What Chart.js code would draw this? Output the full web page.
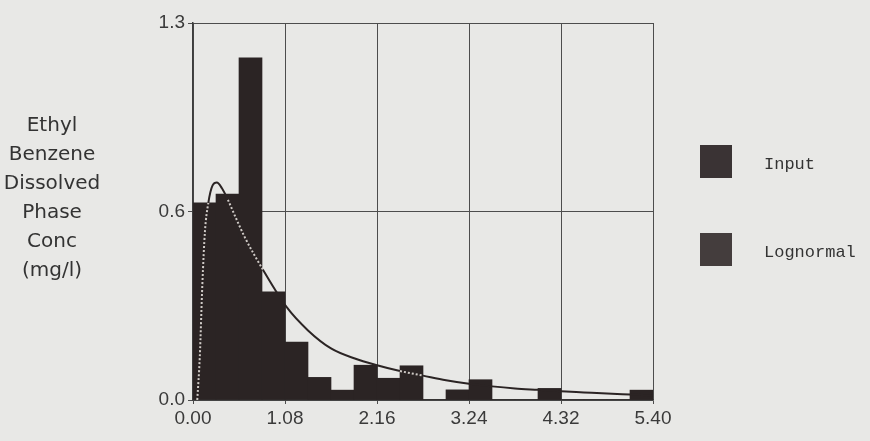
<!DOCTYPE html>
<html>
<head>
<meta charset="utf-8">
<script src="https://cdn.jsdelivr.net/npm/chart.js@4.4.1/dist/chart.umd.min.js"></script>
<style>
  html, body { margin: 0; padding: 0; background: #e8e8e6; }
  #wrap { width: 870px; height: 441px; }
</style>
</head>
<body>
<div id="wrap"><canvas id="histChart"></canvas></div>
<script>
// histogram bins (left edge of each bin, width 0.27)
const binStarts = [0.00, 0.27, 0.54, 0.81, 1.08, 1.35, 1.62, 1.89, 2.16, 2.43,
                   2.70, 2.97, 3.24, 3.51, 3.78, 4.05, 4.32, 4.59, 4.86, 5.13];
const binWidth = 0.27;
const inputFreq = [0.68, 0.71, 1.18, 0.373, 0.20, 0.078, 0.034, 0.12, 0.075, 0.118,
                   0.00, 0.035, 0.07, 0.00, 0.00, 0.04, 0.00, 0.00, 0.00, 0.034];

// lognormal fit
const curveX = [0.05, 0.08, 0.11, 0.14, 0.18, 0.23, 0.28, 0.34, 0.41, 0.50, 0.61, 0.82,
                1.10, 1.35, 1.62, 1.90, 2.16, 2.43, 2.70, 2.97, 3.24, 3.51, 3.78, 4.05,
                4.32, 4.59, 4.86, 5.13, 5.40];
const curveY = [0.00, 0.15, 0.40, 0.58, 0.68, 0.74, 0.75, 0.73, 0.69, 0.63, 0.56, 0.45,
                0.32, 0.24, 0.178, 0.143, 0.12, 0.10, 0.084, 0.068, 0.056, 0.047, 0.04, 0.035,
                0.03, 0.026, 0.022, 0.019, 0.016];

const xTicks = [0, 1.08, 2.16, 3.24, 4.32, 5.40];
const yTicks = [0, 0.65, 1.3];
const yTickLabels = ['0.0', '0.6', '1.3'];
const yTitle = ['Ethyl', 'Benzene', 'Dissolved', 'Phase', 'Conc', '(mg/l)'];
const seriesNames = ['Input', 'Lognormal'];

const ink = '#2b2424';

function underBar(x, y) {
  const i = binStarts.findIndex(s => x >= s && x < s + binWidth);
  return i >= 0 && y < inputFreq[i] - 0.02;
}
function segInside(c) {
  return underBar((c.p0.parsed.x + c.p1.parsed.x) / 2, (c.p0.parsed.y + c.p1.parsed.y) / 2);
}

// y title (horizontal, stacked lines) and the boxed legend on the right
const sideText = {
  id: 'sideText',
  afterDraw(chart) {
    const ctx = chart.ctx;
    const area = chart.chartArea;
    ctx.save();
    ctx.fillStyle = '#333';
    ctx.textAlign = 'center';
    ctx.textBaseline = 'middle';
    ctx.font = '20px "DejaVu Sans"';
    yTitle.forEach((t, i) => ctx.fillText(t, 52, 126 + i * 29));

    ctx.textAlign = 'left';
    ctx.font = '17px "Liberation Mono"';
    const colors = ['#3a3334', '#443d3d'];
    seriesNames.forEach((name, i) => {
      const top = 145 + i * 88;
      ctx.fillStyle = colors[i];
      ctx.fillRect(area.right + 47, top, 32, 33);
      ctx.fillStyle = '#333';
      ctx.fillText(name, area.right + 111, top + 19);
    });
    ctx.restore();
  }
};

new Chart(document.getElementById('histChart'), {
  type: 'bar',
  data: {
    datasets: [
      {
        type: 'line',
        label: seriesNames[1],
        data: curveX.map((x, i) => ({ x: x, y: curveY[i] })),
        borderColor: ink,
        borderWidth: 2,
        pointRadius: 0,
        fill: false,
        cubicInterpolationMode: 'monotone',
        order: 0,
        segment: {
          borderColor: c => segInside(c) ? '#cfcac6' : ink,
          borderDash: c => segInside(c) ? [2, 2] : undefined
        }
      },
      {
        label: seriesNames[0],
        data: binStarts.map((s, i) => ({ x: s + binWidth / 2, y: inputFreq[i] })),
        backgroundColor: ink,
        borderWidth: 0,
        barPercentage: 1,
        categoryPercentage: 1,
        order: 1
      }
    ]
  },
  options: {
    responsive: true,
    maintainAspectRatio: false,
    animation: false,
    layout: { padding: { left: 120, right: 217, top: 23, bottom: 11 } },
    plugins: {
      legend: { display: false },
      tooltip: { enabled: false }
    },
    scales: {
      x: {
        type: 'linear',
        min: 0,
        max: 5.4,
        offset: false,
        afterBuildTicks: s => { s.ticks = xTicks.map(v => ({ value: v })); },
        afterFit: s => { s.height = 30; },
        ticks: {
          autoSkip: false,
          maxRotation: 0,
          padding: 3,
          color: '#3a3a3a',
          font: { family: '"Liberation Sans"', size: 19 },
          callback: v => v.toFixed(2)
        },
        grid: { color: '#4d4d4d', lineWidth: 1, tickLength: 4, offset: false },
        border: { color: '#3d3d3d', width: 1.5 }
      },
      y: {
        min: 0,
        max: 1.3,
        afterBuildTicks: s => { s.ticks = yTicks.map(v => ({ value: v })); },
        afterFit: s => { s.width = 73; },
        ticks: {
          padding: 3,
          color: '#3a3a3a',
          font: { family: '"Liberation Sans"', size: 19 },
          callback: (v, i) => yTickLabels[i]
        },
        grid: { color: '#4d4d4d', lineWidth: 1, tickLength: 5 },
        border: { color: '#3d3d3d', width: 1.5 }
      }
    }
  },
  plugins: [sideText]
});
</script>
</body>
</html>
